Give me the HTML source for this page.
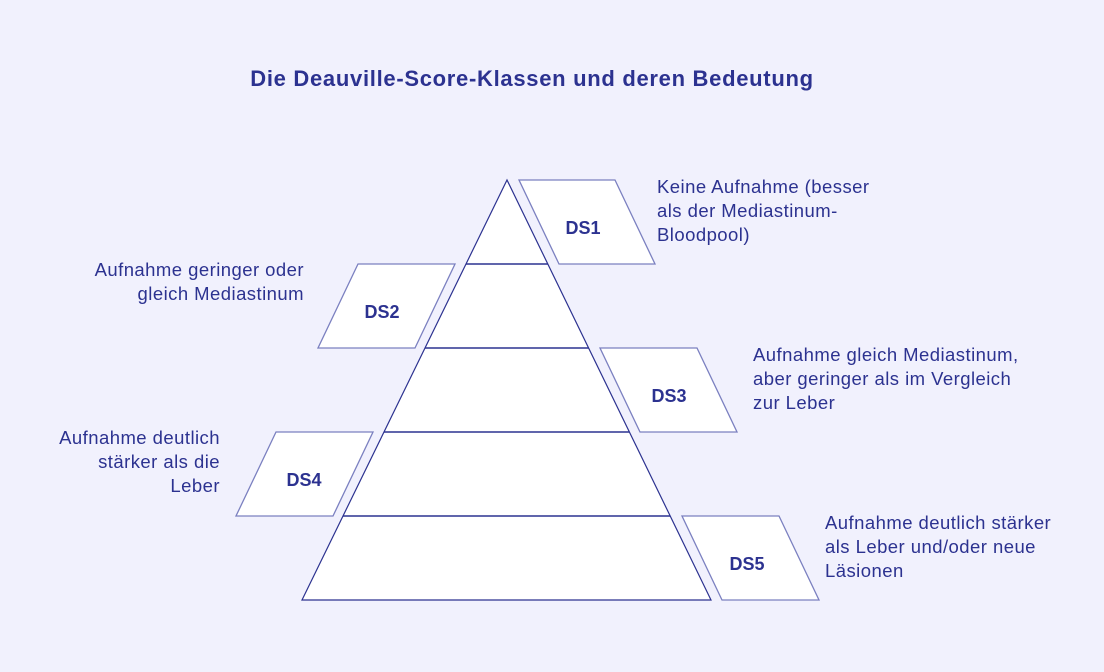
<!DOCTYPE html>
<html><head><meta charset="utf-8"><style>
html,body{margin:0;padding:0;background:#f1f1fd;}
svg{display:block;}
text{font-family:"Liberation Sans",sans-serif;fill:#2c3290;}
</style></head><body>
<svg width="1104" height="672" viewBox="0 0 1104 672">
<rect width="1104" height="672" fill="#f1f1fd"/>
<text x="532" y="86" text-anchor="middle" font-size="22" font-weight="bold" letter-spacing="0.7">Die Deauville-Score-Klassen und deren Bedeutung</text>
<g stroke="#7b80c0" stroke-width="1.3" fill="#fff">
<polygon points="519,180 615,180 655,264 559,264"/>
<polygon points="358,264 455,264 415,348 318,348"/>
<polygon points="600,348 697,348 737,432 640,432"/>
<polygon points="276,432 373,432 333,516 236,516"/>
<polygon points="682,516 779,516 819,600 722,600"/>
</g>
<polygon points="507,180 711,600 302,600" fill="#fff" stroke="#2c3290" stroke-width="1.2"/>
<g stroke="#2c3290" stroke-width="1.4">
<line x1="466" y1="264" x2="548" y2="264"/>
<line x1="425" y1="348" x2="589" y2="348"/>
<line x1="384" y1="432" x2="629" y2="432"/>
<line x1="343" y1="516" x2="670" y2="516"/>
</g>
<g font-size="18" font-weight="bold" text-anchor="middle">
<text x="583" y="234">DS1</text>
<text x="382" y="318">DS2</text>
<text x="669" y="402">DS3</text>
<text x="304" y="486">DS4</text>
<text x="747" y="570">DS5</text>
</g>
<g font-size="18.5" letter-spacing="0.45">
<text x="657" y="193">Keine Aufnahme (besser</text>
<text x="657" y="217">als der Mediastinum-</text>
<text x="657" y="241">Bloodpool)</text>
<text x="304" y="276" text-anchor="end">Aufnahme geringer oder</text>
<text x="304" y="300" text-anchor="end">gleich Mediastinum</text>
<text x="753" y="361">Aufnahme gleich Mediastinum,</text>
<text x="753" y="385">aber geringer als im Vergleich</text>
<text x="753" y="409">zur Leber</text>
<text x="220" y="444" text-anchor="end">Aufnahme deutlich</text>
<text x="220" y="468" text-anchor="end">stärker als die</text>
<text x="220" y="492" text-anchor="end">Leber</text>
<text x="825" y="529">Aufnahme deutlich stärker</text>
<text x="825" y="553">als Leber und/oder neue</text>
<text x="825" y="577">Läsionen</text>
</g>
</svg>
</body></html>
